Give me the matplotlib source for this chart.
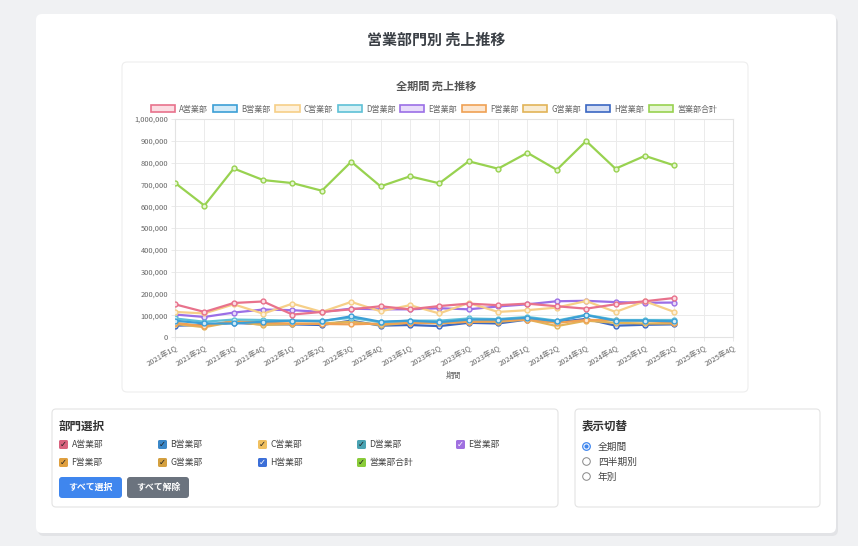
import matplotlib
matplotlib.use("Agg")
import matplotlib.pyplot as plt
from matplotlib.patches import FancyBboxPatch, Patch, Circle
from matplotlib.ticker import FuncFormatter, MultipleLocator

plt.rcParams['font.family'] = ['Noto Sans CJK JP', 'DejaVu Sans']

periods = ["2021年1Q", "2021年2Q", "2021年3Q", "2021年4Q",
           "2022年1Q", "2022年2Q", "2022年3Q", "2022年4Q",
           "2023年1Q", "2023年2Q", "2023年3Q", "2023年4Q",
           "2024年1Q", "2024年2Q", "2024年3Q", "2024年4Q",
           "2025年1Q", "2025年2Q", "2025年3Q", "2025年4Q"]

sales_a = [150000, 115000, 156000, 163000, 103000, 115000, 127000, 141000, 127000, 142000,
           153000, 146000, 153000, 141000, 130000, 150000, 164000, 179000]
sales_b = [75000, 62000, 62000, 70000, 75000, 72000, 95000, 70000, 75000, 68000,
           80000, 80000, 88000, 72000, 100000, 75000, 75000, 72000]
sales_c = [115000, 108000, 150000, 107000, 153000, 115000, 161000, 118000, 146000, 108000,
           156000, 115000, 123000, 135000, 165000, 115000, 164000, 115000]
sales_d = [85000, 70000, 80000, 78000, 75000, 75000, 88000, 68000, 75000, 75000,
           85000, 82000, 92000, 75000, 102000, 78000, 78000, 78000]
sales_e = [103000, 92000, 112000, 126000, 123000, 115000, 130000, 127000, 127000, 132000,
           127000, 140000, 150000, 164000, 166000, 160000, 157000, 158000]
sales_f = [65000, 50000, 75000, 65000, 62000, 60000, 58000, 62000, 65000, 65000,
           70000, 75000, 80000, 65000, 78000, 78000, 75000, 65000]
sales_g = [60000, 45000, 70000, 55000, 60000, 62000, 70000, 55000, 65000, 63000,
           70000, 70000, 80000, 50000, 75000, 65000, 62000, 62000]
sales_h = [52000, 55000, 65000, 58000, 58000, 55000, 75000, 52000, 55000, 50000,
           65000, 62000, 80000, 68000, 83000, 52000, 56000, 58000]
sales_total = [707000, 603000, 773000, 720000, 706000, 671000, 804000, 691000, 737000, 705000,
               806000, 772000, 845000, 767000, 899000, 772000, 831000, 787000]

series_names = ["A営業部", "B営業部", "C営業部", "D営業部", "E営業部",
                "F営業部", "G営業部", "H営業部", "営業部合計"]
series_values = [sales_a, sales_b, sales_c, sales_d, sales_e, sales_f, sales_g, sales_h, sales_total]
line_colors = ["#e8728c", "#3c9fd6", "#f6cf88", "#5ec0d6", "#9b6fe6",
               "#efa154", "#e2b458", "#3b67c2", "#98d250"]
fill_colors = ["#fbdde3", "#d3ebf8", "#fdf1dc", "#d6f0f4", "#e8dcfa",
               "#fce6d0", "#f9ecd3", "#d5def3", "#e6f5d3"]
check_colors = ["#d9637e", "#3a87c8", "#f0c060", "#4aa3b3", "#a070e0",
                "#e0a040", "#d4a040", "#3c6fd8", "#8acc3a"]

W, H = 858, 546
fig = plt.figure(figsize=(W / 100, H / 100), dpi=100)
fig.patch.set_facecolor("#f0f1f3")

bg = fig.add_axes([0, 0, 1, 1], zorder=0)
bg.set_xlim(0, W)
bg.set_ylim(H, 0)
bg.axis("off")

def box(x0, y0, x1, y1, fc, ec="none", lw=0.8, r=4, z=1):
    p = FancyBboxPatch((x0, y0), x1 - x0, y1 - y0,
                       boxstyle=f"round,pad=0,rounding_size={r}",
                       fc=fc, ec=ec, lw=lw, zorder=z)
    bg.add_patch(p)

# card with shadow
box(38, 17, 838, 536, "#e2e3e6", r=6, z=0.5)
box(36, 14, 836, 533, "white", r=6, z=1)
# chart container
box(122, 62, 748, 392, "white", ec="#eeeeee", lw=0.8, r=5, z=1.2)
# bottom panels
box(52, 409, 558, 507, "white", ec="#e4e4e4", lw=0.8, r=4, z=1.2)
box(575, 409, 820, 507, "white", ec="#e4e4e4", lw=0.8, r=4, z=1.2)

bg.text(436, 40, "営業部門別 売上推移", ha="center", va="center",
        fontsize=10.8, fontweight="bold", color="#3a3f45", zorder=3)
bg.text(436, 86, "全期間 売上推移", ha="center", va="center",
        fontsize=8, fontweight="bold", color="#555555", zorder=3)
bg.text(453, 376, "期間", ha="center", va="center", fontsize=5.6, color="#666666", zorder=3)

# main chart
ax = fig.add_axes([175 / W, 1 - 337 / H, (733 - 175) / W, (337 - 119) / H], zorder=2)
ax.set_facecolor("white")
x = list(range(len(sales_total)))
n = len(series_names)
for i, (name, vals, lc, fc) in enumerate(zip(series_names, series_values, line_colors, fill_colors)):
    ax.plot(x, vals, color=lc, lw=1.6, marker="o", ms=3.5, mfc=fc, mec=lc, mew=1.0,
            label=name, zorder=3 + (n - i) * 0.01)

ax.set_xlim(0, len(periods) - 1)
ax.set_ylim(0, 1000000)
ax.yaxis.set_major_locator(MultipleLocator(100000))
ax.yaxis.set_major_formatter(FuncFormatter(lambda v, p: f"{int(v):,}"))
ax.set_xticks(range(len(periods)))
ax.set_xticklabels(periods, rotation=30, ha="right", rotation_mode="anchor")
ax.tick_params(axis="both", labelsize=5.4, colors="#666666", length=3, width=0.6)
ax.tick_params(axis="x", pad=2)
ax.tick_params(axis="y", pad=2)
for t in ax.get_xticklabels() + ax.get_yticklabels():
    t.set_color("#666666")
ax.tick_params(axis="both", color="#e6e6e6")
ax.grid(True, color="#ebebeb", lw=0.7)
ax.set_axisbelow(True)
for s in ax.spines.values():
    s.set_color("#e3e3e3")
    s.set_linewidth(0.8)

handles = [Patch(facecolor=fc, edgecolor=lc, lw=1.2) for lc, fc in zip(line_colors, fill_colors)]
fig.legend(handles, series_names, loc="center", bbox_to_anchor=(434 / W, 1 - 109 / H),
           ncol=9, frameon=False, fontsize=5.8, handlelength=3.0, handleheight=1.0,
           handletextpad=0.5, columnspacing=0.6, labelcolor="#666666")

# department selector panel
bg.text(59, 426, "部門選択", ha="left", va="center", fontsize=8.3, fontweight="bold",
        color="#333333", zorder=3)
col_x = [59, 158, 258, 357, 456]
row_y = [444.5, 462.5]
for i, (name, cc) in enumerate(zip(series_names, check_colors)):
    cx = col_x[i % 5]
    cy = row_y[i // 5]
    box(cx, cy - 4.5, cx + 9, cy + 4.5, cc, r=1.5, z=3)
    bg.text(cx + 4.5, cy + 0.3, "✓", ha="center", va="center", fontsize=6,
            color="#222222" if i not in (4, 7) else "white", fontweight="bold",
            family=["DejaVu Sans"], zorder=4)
    bg.text(cx + 12.5, cy, name, ha="left", va="center", fontsize=6.3,
            color="#444444", zorder=3)

box(59, 477, 122, 498, "#3f86ee", r=3, z=3)
bg.text(90.5, 487.5, "すべて選択", ha="center", va="center", fontsize=6.4,
        fontweight="bold", color="white", zorder=4)
box(127, 477, 189, 498, "#6b737e", r=3, z=3)
bg.text(158, 487.5, "すべて解除", ha="center", va="center", fontsize=6.4,
        fontweight="bold", color="white", zorder=4)

# display switch panel
bg.text(582, 426, "表示切替", ha="left", va="center", fontsize=8.3, fontweight="bold",
        color="#333333", zorder=3)
radio_labels = ["全期間", "四半期別", "年別"]
radio_y = [446.5, 461.5, 476.5]
for j, (lab, ry) in enumerate(zip(radio_labels, radio_y)):
    if j == 0:
        bg.add_patch(Circle((586.5, ry), 3.8, fc="white", ec="#3f86ee", lw=0.9, zorder=3))
        bg.add_patch(Circle((586.5, ry), 2.1, fc="#3f86ee", ec="none", zorder=4))
    else:
        bg.add_patch(Circle((586.5, ry), 3.8, fc="white", ec="#888888", lw=0.7, zorder=3))
    bg.text(598, ry, lab, ha="left", va="center", fontsize=7.0, color="#444444", zorder=3)

fig.savefig("out.png", dpi=100, facecolor=fig.get_facecolor())
